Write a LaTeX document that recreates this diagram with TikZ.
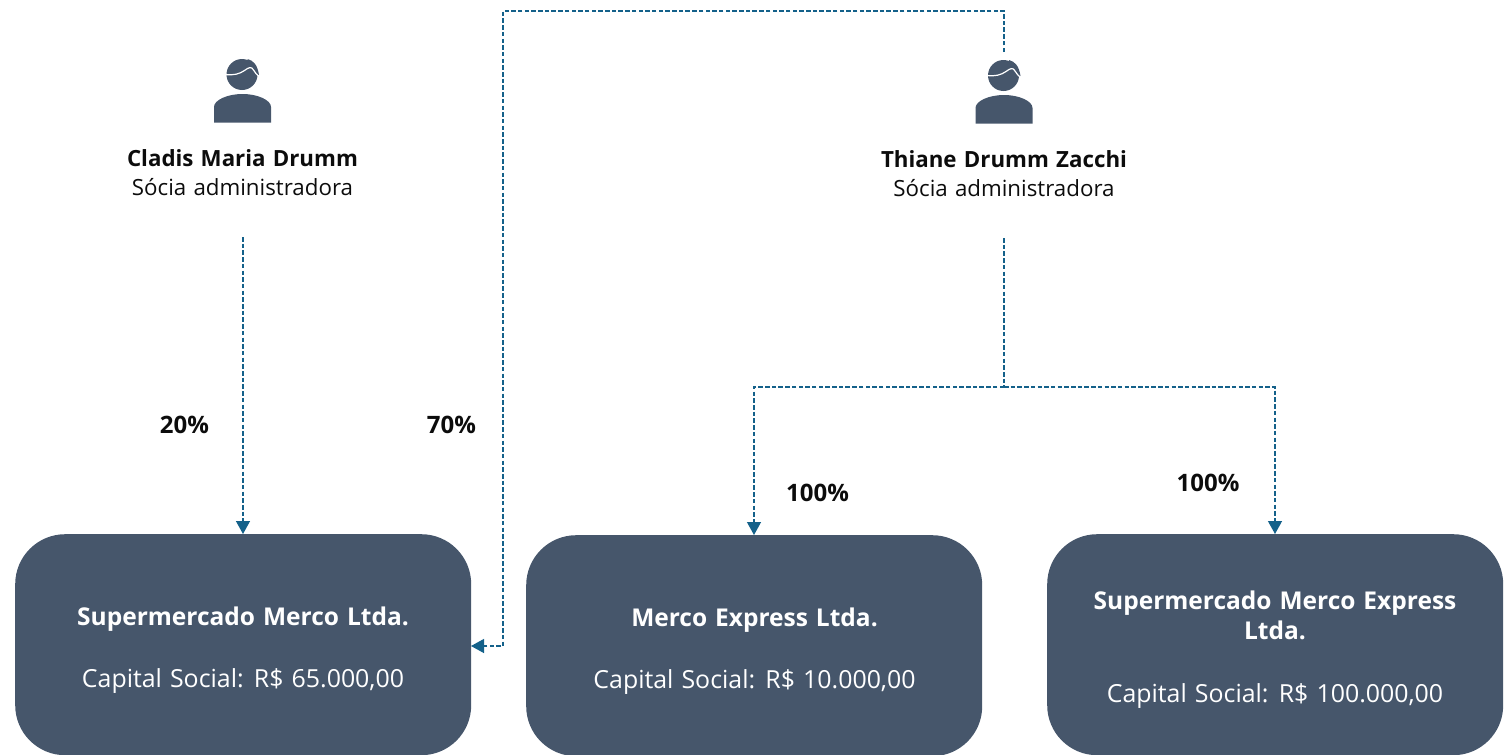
\documentclass[tikz,border=0pt]{standalone}
\usepackage{fontspec}
\setmainfont[WordSpace=1.25]{Open Sans}
\usetikzlibrary{arrows.meta,calc}
\definecolor{boxc}{HTML}{46566B}
\definecolor{linec}{HTML}{14618A}
\definecolor{txtc}{HTML}{0C0C0C}
\tikzset{
 x=1pt,y=-1pt,
 company/.style={draw=none,fill=boxc,rounded corners=50pt,minimum width=456pt,minimum height=221pt,inner sep=0pt,anchor=north west},
 boxtext/.style={text=white,font=\fontsize{24.5}{30}\selectfont,align=center,inner sep=0pt,anchor=center},
 captext/.style={boxtext,font=\fontsize{24.9}{30}\selectfont},
 persontext/.style={text=txtc,font=\fontsize{22.3}{28.5}\selectfont,align=center,inner sep=0pt,anchor=center},
 pct/.style={text=txtc,font=\bfseries\fontsize{24}{28}\selectfont,inner sep=0pt,anchor=center},
 link/.style={draw=linec,line width=1.3pt,dash pattern=on 4.5pt off 2.2pt,-{Triangle[length=13pt,width=14pt,fill=linec]},rounded corners=0pt},
 linkplain/.style={draw=linec,line width=1.3pt,dash pattern=on 4.5pt off 2.2pt},
}
\newcommand{\personicon}[2]{%
 \begin{scope}[shift={(#1,#2)}]
  \fill[boxc] (-28.5,62.5) -- (-28.5,47) .. controls (-28.5,40) and (-15,34) .. (0,34) .. controls (15,34) and (28.5,40) .. (28.5,47) -- (28.5,62.5) -- cycle;
  \fill[boxc] (-0.5,14.5) circle[radius=15.5];
  \fill[boxc] (5,-1) .. controls (11,0.5) and (15,5) .. (16.5,15) -- (5,15) -- cycle;
  \draw[white,line width=1.2pt] (-17,14.5) .. controls (-9,15.5) and (-3,14) .. (2,10.5) .. controls (6,7.5) and (9,6) .. (11,10) .. controls (13,13) and (14,15) .. (18,17);
 \end{scope}}
\begin{document}
\begin{tikzpicture}
\useasboundingbox (0,0) rectangle (1508,755);
\node[company] (a) at (15,534) {};
\node[company] (b) at (526,535) {};
\node[company] (c) at (1047,534) {};
\personicon{242.5}{60}
\personicon{1004}{61}
\node[persontext] (p1) at (242.5,172.5) {\textbf{Cladis Maria Drumm}\\Sócia administradora};
\node[persontext] (p2) at (1004,173.5) {\textbf{Thiane Drumm Zacchi}\\Sócia administradora};
\node[boxtext] (a1) at (243,619.5) {\textbf{Supermercado Merco Ltda.}};
\node[captext] (a2) at (243,681) {Capital Social: R\$ 65.000,00};
\node[boxtext] (b1) at (754.5,620.5) {\textbf{Merco Express Ltda.}};
\node[captext] (b2) at (754.5,682) {Capital Social: R\$ 10.000,00};
\node[boxtext] (c1) at (1275,615) {\textbf{Supermercado Merco Express}\\\textbf{Ltda.}};
\node[captext] (c2) at (1275,696) {Capital Social: R\$ 100.000,00};
\node[pct] (l1) at (184.5,425) {20\%};
\node[pct] (l2) at (451.5,425) {70\%};
\node[pct] (l3) at (817.5,492.5) {100\%};
\node[pct] (l4) at (1208,483) {100\%};
\coordinate (s1) at (243,237);
\coordinate (s2) at (1004,238);
\coordinate (s3) at (1004,52);
\coordinate (j) at (1004,387);
\draw[link] (s1) -- (a.north -| s1) ;
\draw[link] (s3) -- (1004,11) -- (503,11) -- (503,646) -- (471,646);
\draw[linkplain] (s2) -- (j);
\draw[link] (j) -- (754,387) -- (754,535);
\draw[link] (j) -- (1275,387) -- (1275,534);
\end{tikzpicture}
\end{document}
